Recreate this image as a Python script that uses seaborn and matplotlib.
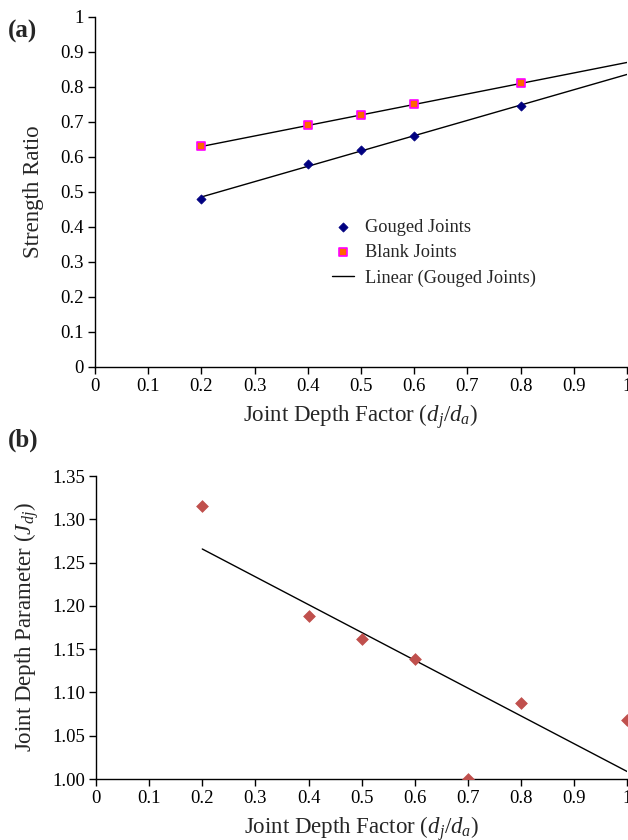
import numpy as np
import pandas as pd
import matplotlib
matplotlib.use("Agg")
import matplotlib.pyplot as plt
import seaborn as sns
from matplotlib.ticker import FixedLocator, FixedFormatter

# ---- data ----
depth_a = [0.2, 0.4, 0.5, 0.6, 0.8]
gouged = [0.48, 0.58, 0.62, 0.66, 0.745]
blank = [0.63, 0.69, 0.72, 0.75, 0.81]

depth_b = [0.2, 0.4, 0.5, 0.6, 0.7, 0.8, 1.0]
jdj = [1.315, 1.188, 1.162, 1.139, 1.00, 1.088, 1.068]

x_ticks = [0, 0.1, 0.2, 0.3, 0.4, 0.5, 0.6, 0.7, 0.8, 0.9, 1.0]
x_tick_labels = ["0", "0.1", "0.2", "0.3", "0.4", "0.5", "0.6", "0.7", "0.8", "0.9", "1"]
ya_ticks = [0, 0.1, 0.2, 0.3, 0.4, 0.5, 0.6, 0.7, 0.8, 0.9, 1.0]
ya_tick_labels = ["0", "0.1", "0.2", "0.3", "0.4", "0.5", "0.6", "0.7", "0.8", "0.9", "1"]
yb_ticks = [1.00, 1.05, 1.10, 1.15, 1.20, 1.25, 1.30, 1.35]
yb_tick_labels = ["1.00", "1.05", "1.10", "1.15", "1.20", "1.25", "1.30", "1.35"]

sns.set_style("white")
plt.rcParams["font.family"] = ["Liberation Serif", "DejaVu Serif"]
plt.rcParams["mathtext.fontset"] = "custom"
plt.rcParams["mathtext.rm"] = "Liberation Serif"
plt.rcParams["mathtext.it"] = "Liberation Serif:italic"

TICK_FS = 13.5
LABEL_FS = 16.5

fig = plt.figure(figsize=(6.28, 8.40), dpi=100)
ax1 = fig.add_axes([0.1513, 0.5631, 0.847, 0.4167])
ax2 = fig.add_axes([0.1529, 0.0726, 0.846, 0.3607])

def style_axes(ax):
    for s in ["top", "right"]:
        ax.spines[s].set_visible(False)
    for s in ["left", "bottom"]:
        ax.spines[s].set_color("black")
        ax.spines[s].set_linewidth(1.0)
    ax.tick_params(axis="both", direction="out", length=5, width=1.0,
                   color="black", labelsize=TICK_FS, colors="black", pad=3)
    ax.tick_params(axis="both", which="both", bottom=True, left=True)
    ax.set_xlim(0, 1.0)
    ax.xaxis.set_major_locator(FixedLocator(x_ticks))
    ax.xaxis.set_major_formatter(FixedFormatter(x_tick_labels))

# ---- panel (a) ----
df_a = pd.DataFrame({"x": depth_a, "Gouged Joints": gouged, "Blank Joints": blank})
xfit = np.array([0.2, 1.0])
pg = np.polyfit(df_a["x"], df_a["Gouged Joints"], 1)
pbk = np.polyfit(df_a["x"], df_a["Blank Joints"], 1)

sns.lineplot(x=xfit, y=np.polyval(pbk, xfit), ax=ax1, color="black", lw=1.0, legend=False)
sns.lineplot(x=xfit, y=np.polyval(pg, xfit), ax=ax1, color="black", lw=1.0,
             label="Linear (Gouged Joints)")
sns.scatterplot(data=df_a, x="x", y="Gouged Joints", ax=ax1, marker="D", s=22,
                color="#000080", edgecolor="#000080", linewidth=0.5, label="Gouged Joints", zorder=5)
sns.scatterplot(data=df_a, x="x", y="Blank Joints", ax=ax1, marker="s", s=36,
                color="#FF6600", edgecolor="#FF00FF", linewidth=1.2, label="Blank Joints", zorder=5)

style_axes(ax1)
ax1.set_ylim(0, 1.0)
ax1.yaxis.set_major_locator(FixedLocator(ya_ticks))
ax1.yaxis.set_major_formatter(FixedFormatter(ya_tick_labels))
ax1.set_xlabel(r"Joint Depth Factor ($d_j$/$d_a$)", fontsize=LABEL_FS, labelpad=5)
ax1.set_ylabel("Strength Ratio", fontsize=LABEL_FS, labelpad=12)

handles, labels = ax1.get_legend_handles_labels()
order = [labels.index(l) for l in ["Gouged Joints", "Blank Joints", "Linear (Gouged Joints)"]]
ax1.legend([handles[i] for i in order], [labels[i] for i in order],
           loc="upper left", bbox_to_anchor=(0.415, 0.47), frameon=False,
           fontsize=13.2, handlelength=1.2, handletextpad=0.6, labelspacing=0.45)

fig.text(0.012, 0.963, "(a)", fontsize=18, fontweight="bold", ha="left", va="center")

# ---- panel (b) ----
df_b = pd.DataFrame({"x": depth_b, "J": jdj})
pb = np.polyfit(df_b["x"], df_b["J"], 1)
xfit_b = np.array([0.2, 1.0])
sns.lineplot(x=xfit_b, y=np.polyval(pb, xfit_b), ax=ax2, color="black", lw=1.0, legend=False)
sns.scatterplot(data=df_b, x="x", y="J", ax=ax2, marker="D", s=36,
                color="#C0504D", edgecolor="#C0504D", linewidth=0.5, zorder=5, legend=False)

style_axes(ax2)
ax2.set_ylim(1.0, 1.35)
ax2.yaxis.set_major_locator(FixedLocator(yb_ticks))
ax2.yaxis.set_major_formatter(FixedFormatter(yb_tick_labels))
ax2.set_xlabel(r"Joint Depth Factor ($d_j$/$d_a$)", fontsize=LABEL_FS, labelpad=5)
ax2.set_ylabel(r"Joint Depth Parameter ($J_{dj}$)", fontsize=LABEL_FS, labelpad=8)

fig.text(0.012, 0.476, "(b)", fontsize=18, fontweight="bold", ha="left", va="center")

fig.savefig("out.png", dpi=100)
